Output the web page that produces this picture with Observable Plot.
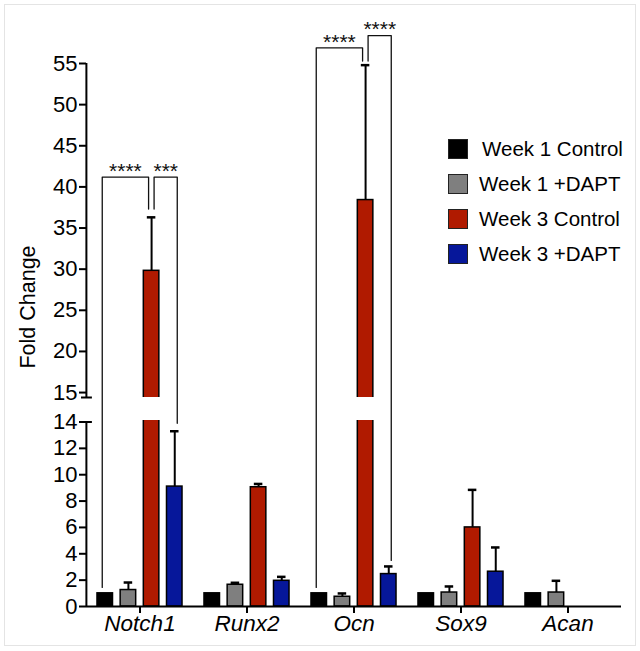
<!DOCTYPE html>
<html><head><meta charset="utf-8">
<script src="https://cdn.jsdelivr.net/npm/d3@7"></script>
<script src="https://cdn.jsdelivr.net/npm/@observablehq/plot@0.6"></script>
<style>
html,body{margin:0;padding:0;background:#fff;overflow:hidden}
#wrap{position:relative;width:640px;height:651px;font-family:"Liberation Sans",Arial,sans-serif;color:#000}
#frame{position:absolute;left:4px;top:4px;right:4px;bottom:5px;border:1px solid #e4e4e4;pointer-events:none}
#ylabel{position:absolute;left:28px;top:307px;transform:translate(-50%,-50%) rotate(-90deg);font-size:21.5px;white-space:nowrap}
#legend{position:absolute;left:448px;top:131.5px}
.row{display:flex;align-items:center;height:35px}
.sw{width:20px;height:20px;box-sizing:border-box;border:1.5px solid #222}
.lt{margin-left:11px;font-size:20.5px;white-space:nowrap}
.row:first-child .lt{margin-left:14px}
g[aria-label="fx-axis tick label"] text, g[aria-label="fx-axis tick label"]{font-style:italic;font-size:22.5px}
g[aria-label="y-axis tick label"] text, g[aria-label="y-axis tick label"]{font-size:22px}
</style>
</head><body>
<div id="wrap">
  <div id="chart"></div>
  <div id="ylabel">Fold Change</div>
  <div id="legend"></div>
  <div id="frame"></div>
</div>
<script>
// ---- data ----
const genes = ["Notch1", "Runx2", "Ocn", "Sox9", "Acan"];
const series = ["Week 1 Control", "Week 1 +DAPT", "Week 3 Control", "Week 3 +DAPT"];
const seriesColors = ["#000000", "#7f7f7f", "#b01a00", "#06179a"];

const week1Control    = [1, 1, 1, 1, 1];
const week1ControlErr = [0, 0, 0, 0, 0];
const week1Dapt       = [1.25, 1.65, 0.74, 1.06, 1.06];
const week1DaptErr    = [0.57, 0.15, 0.25, 0.46, 0.89];
const week3Control    = [29.8, 9.05, 38.4, 6.0, 0];
const week3ControlErr = [6.5, 0.25, 16.4, 2.85, 0];
const week3Dapt       = [9.1, 1.95, 2.46, 2.64, 0];
const week3DaptErr    = [4.2, 0.3, 0.58, 1.84, 0];

const lowerTicks = [0, 2, 4, 6, 8, 10, 12, 14];
const upperTicks = [15, 20, 25, 30, 35, 40, 45, 50, 55];
const lowerDomain = [0, 14];
const upperDomain = [14.4, 55];

const bracketGene  = ["Notch1", "Notch1", "Ocn", "Ocn"];
const bracketFrom  = ["Week 1 Control", "Week 3 Control", "Week 1 Control", "Week 3 Control"];
const bracketTo    = ["Week 3 Control", "Week 3 +DAPT", "Week 3 Control", "Week 3 +DAPT"];
const bracketFromY = [1.45, 37.3, 1.45, 55.3];
const bracketTop   = [41.2, 41.2, 56.9, 58.4];
const bracketToY   = [37.3, 13.9, 55.3, 3.5];
const bracketLabel = ["****", "***", "****", "****"];

// ---- tables ----
const values = [week1Control, week1Dapt, week3Control, week3Dapt];
const errs = [week1ControlErr, week1DaptErr, week3ControlErr, week3DaptErr];
const rows = series.flatMap((s, si) => genes.map((g, gi) => ({gene: g, series: s, value: values[si][gi], err: errs[si][gi]})));
const errRows = rows.filter(d => d.err > 0).map(d => ({...d, top: d.value + d.err}));
const axisSegments = [{y1: lowerDomain[0], y2: lowerDomain[1]}, {y1: upperDomain[0], y2: upperDomain[1]}];

const brackets = bracketGene.map((g, i) => {
  const a = series.indexOf(bracketFrom[i]), b = series.indexOf(bracketTo[i]);
  const mid = (a + b) / 2;
  return {id: i, gene: g, from: bracketFrom[i], to: bracketTo[i], fromY: bracketFromY[i], top: bracketTop[i],
          toY: bracketToY[i], label: bracketLabel[i], side: a === 0 ? "left" : "right",
          labelSeries: series[Math.floor(mid)], half: mid % 1 !== 0};
});
const bracketPts = brackets.flatMap(b => [
  {id: b.id, gene: b.gene, side: b.side, x: b.from, y: b.fromY},
  {id: b.id, gene: b.gene, side: b.side, x: b.from, y: b.top},
  {id: b.id, gene: b.gene, side: b.side, x: b.to, y: b.top},
  {id: b.id, gene: b.gene, side: b.side, x: b.to, y: b.toY}
]);

// ---- layout ----
const W = 640, H = 651, mL = 84, mR = 18, mT = 63, mB = 45;
const facetW = (W - mL - mR) / genes.length;
const padIn = 0.33, padOut = 0.474;
const step = facetW / (series.length - padIn + 2 * padOut);
const firstBandCenter = padOut * step + (1 - padIn) * step / 2; // distance from facet left edge

const chart = Plot.plot({
  width: W, height: H,
  marginLeft: mL, marginRight: mR, marginTop: mT, marginBottom: mB,
  style: {fontFamily: "'Liberation Sans', Arial, sans-serif", fontSize: "22px", color: "#000", background: "transparent", overflow: "visible"},
  fx: {domain: genes, padding: 0, label: null},
  x: {domain: series, paddingInner: padIn, paddingOuter: padOut, round: false, axis: null},
  y: {type: "linear", domain: [lowerDomain[0], lowerDomain[1], upperDomain[0], upperDomain[1]],
      range: [H - mB, 421.5, 397, mT], axis: null},
  color: {domain: series, range: seriesColors},
  marks: [
    Plot.axisY({ticks: [...lowerTicks, ...upperTicks], tickSize: 7, tickPadding: 2, tickFormat: d => String(d),
                strokeWidth: 2, label: null, fontSize: 22}),
    Plot.barY(rows, {fx: "gene", x: "series", y: "value", fill: "series", stroke: "#000", strokeWidth: 1.5}),
    Plot.rect([{lo: lowerDomain[1], hi: upperDomain[0]}], {y1: "lo", y2: "hi", fill: "white", insetBottom: 1.5}),
    Plot.ruleX(axisSegments, {facetAnchor: "left", x: () => series[0], y1: "y1", y2: "y2", dx: -firstBandCenter, strokeWidth: 2}),
    Plot.ruleX(errRows, {fx: "gene", x: "series", y1: "value", y2: "top", strokeWidth: 2}),
    Plot.tickY(errRows, {fx: "gene", x: "series", y: "top", strokeWidth: 2.5, insetLeft: 3.5, insetRight: 3.5}),
    Plot.ruleY([lowerDomain[1], upperDomain[0]], {facetAnchor: "left", strokeWidth: 2, insetLeft: -5, insetRight: facetW - 6.5}),
    Plot.ruleY([0], {strokeWidth: 2}),
    Plot.axisFx({anchor: "bottom", tickSize: 7, tickPadding: 2, label: null, strokeWidth: 2, fontSize: 22.5, fontStyle: "italic"}),
    Plot.line(bracketPts.filter(d => d.side === "left"), {fx: "gene", x: "x", y: "y", z: "id", dx: -3, stroke: "#111", strokeWidth: 1.3}),
    Plot.line(bracketPts.filter(d => d.side === "right"), {fx: "gene", x: "x", y: "y", z: "id", dx: 2.5, stroke: "#111", strokeWidth: 1.3}),
    Plot.text(brackets.filter(b => !b.half), {fx: "gene", x: "labelSeries", y: "top", text: "label", dx: -3, dy: -6, fontSize: 21, fill: "#111"}),
    Plot.text(brackets.filter(b => b.half), {fx: "gene", x: "labelSeries", y: "top", text: "label", dx: step / 2 + 2.5, dy: -6, fontSize: 21, fill: "#111"})
  ]
});
document.getElementById("chart").appendChild(chart);

// ---- legend ----
const legend = document.getElementById("legend");
series.forEach((s, i) => {
  const row = document.createElement("div");
  row.className = "row";
  const sw = document.createElement("div");
  sw.className = "sw";
  sw.style.background = seriesColors[i];
  const t = document.createElement("div");
  t.className = "lt";
  t.textContent = s;
  row.appendChild(sw); row.appendChild(t);
  legend.appendChild(row);
});
</script>
</body></html>
